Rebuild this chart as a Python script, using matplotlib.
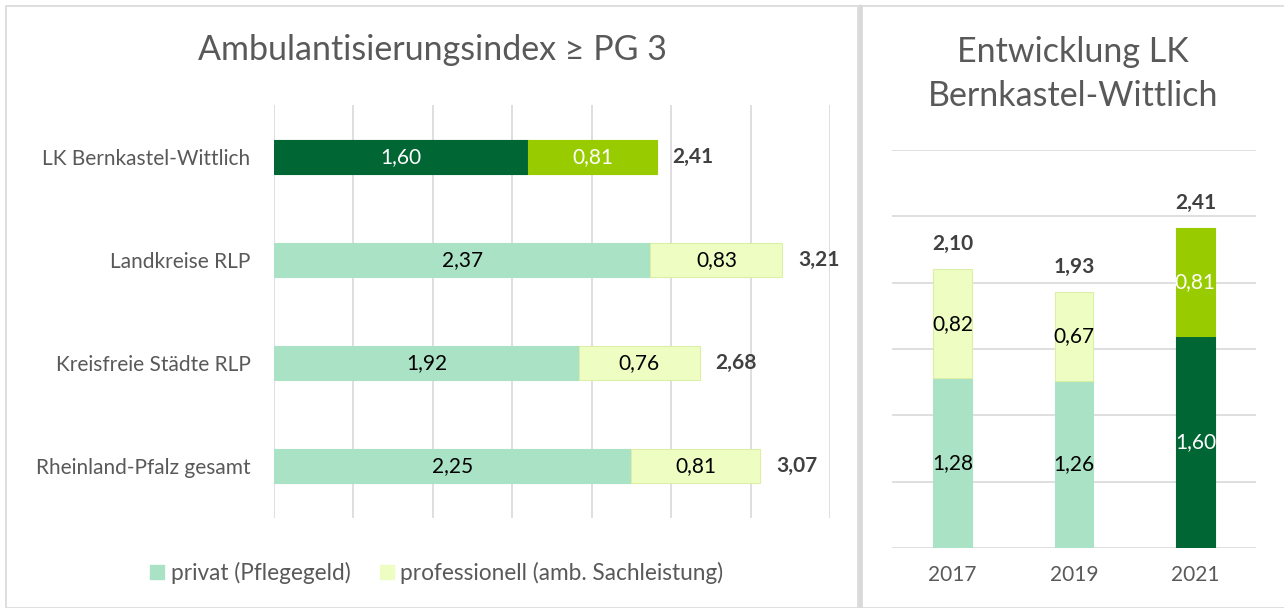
import matplotlib.pyplot as plt
import matplotlib.patches as patches
import numpy as np

plt.rcParams['font.family'] = ['Lato', 'DejaVu Sans']

# left chart data
regions = ['LK Bernkastel-Wittlich', 'Landkreise RLP', 'Kreisfreie Städte RLP', 'Rheinland-Pfalz gesamt']
privat = [1.60, 2.37, 1.92, 2.25]
profi = [0.81, 0.83, 0.76, 0.81]
totals = [2.41, 3.21, 2.68, 3.07]

# right chart data
years = ['2017', '2019', '2021']
privat_lk = [1.28, 1.26, 1.60]
profi_lk = [0.82, 0.67, 0.81]
totals_lk = [2.10, 1.93, 2.41]

c_priv = '#a9e2c5'
c_prof = '#eefdc2'
c_prof_edge = '#dcefa6'
c_dark = '#006633'
c_lime = '#99cc00'
grid = '#d9d9d9'
txt = '#595959'
fs = 15

def fmt(v):
    return '{:.2f}'.format(v).replace('.', ',')

W, H = 1284, 608
fig = plt.figure(figsize=(12.84, 6.08), dpi=100)

# panel borders
fig.patches.append(patches.Rectangle((6 / W, 0), 852 / W, 1 - 6 / H, transform=fig.transFigure,
                                     fill=False, edgecolor=grid, lw=1.2))
fig.patches.append(patches.Rectangle((862 / W, 0), 430 / W, 1 - 6 / H, transform=fig.transFigure,
                                     fill=False, edgecolor=grid, lw=1.2))
fig.lines.append(plt.Line2D([860 / W, 860 / W], [0, 1 - 6 / H], transform=fig.transFigure,
                            color=grid, lw=2.5))

# ---- left chart ----
ax = fig.add_axes([274 / W, 1 - 518 / H, 556 / W, 413 / H])
y = np.arange(len(regions))
for i in range(len(regions)):
    if i == 0:
        cp, cq, ep, eq, tp, tq = c_dark, c_lime, c_dark, c_lime, 'white', 'white'
    else:
        cp, cq, ep, eq, tp, tq = c_priv, c_prof, c_priv, c_prof_edge, 'black', 'black'
    ax.barh(y[i], privat[i], height=0.33, color=cp, edgecolor=ep, lw=0.8, zorder=3)
    ax.barh(y[i], profi[i], left=privat[i], height=0.33, color=cq, edgecolor=eq, lw=0.8, zorder=3)
    ax.text(privat[i] / 2, y[i], fmt(privat[i]), ha='center', va='center', fontsize=fs, color=tp, zorder=4)
    ax.text(privat[i] + profi[i] / 2, y[i], fmt(profi[i]), ha='center', va='center', fontsize=fs, color=tq, zorder=4)
    ax.text(privat[i] + profi[i] + 0.1, y[i], fmt(totals[i]), ha='left', va='center', fontsize=fs,
            color='#404040', fontweight='bold', zorder=4)

ax.set_xlim(0, 3.5)
ax.set_ylim(3.5, -0.5)
ax.set_xticks(np.arange(0, 3.51, 0.5))
ax.set_xticklabels([])
ax.set_yticks(y)
ax.set_yticklabels(regions, fontsize=fs, color=txt)
ax.tick_params(length=0, pad=17)
ax.grid(axis='x', color=grid, lw=1.2, zorder=0)
for s in ax.spines.values():
    s.set_visible(False)

fig.text(432 / W, 1 - 50 / H, 'Ambulantisierungsindex ≥ PG 3', ha='center', va='center',
         fontsize=24.5, color=txt)

# legend
h1 = patches.Patch(facecolor=c_priv, edgecolor=c_priv)
h2 = patches.Patch(facecolor=c_prof, edgecolor=c_prof)
fig.legend([h1, h2], ['privat (Pflegegeld)', 'professionell (amb. Sachleistung)'],
           loc='center', bbox_to_anchor=(437 / W, 1 - 573 / H), ncol=2, frameon=False,
           fontsize=16.3, labelcolor=txt, handlelength=0.6, handleheight=0.6,
           handletextpad=0.3, columnspacing=1.3)

# ---- right chart ----
ax2 = fig.add_axes([892 / W, 1 - 548 / H, 364 / W, 398 / H])
x = np.arange(len(years))
for i in range(len(years)):
    if i == 2:
        cp, cq, eq, tp, tq = c_dark, c_lime, c_lime, 'white', 'white'
    else:
        cp, cq, eq, tp, tq = c_priv, c_prof, c_prof_edge, 'black', 'black'
    ax2.bar(x[i], privat_lk[i], width=0.32, color=cp, edgecolor=cp, lw=0.8, zorder=3)
    ax2.bar(x[i], profi_lk[i], bottom=privat_lk[i], width=0.32, color=cq, edgecolor=eq, lw=0.8, zorder=3)
    ax2.text(x[i], privat_lk[i] / 2, fmt(privat_lk[i]), ha='center', va='center', fontsize=fs, color=tp, zorder=4)
    ax2.text(x[i], privat_lk[i] + profi_lk[i] / 2, fmt(profi_lk[i]), ha='center', va='center',
             fontsize=fs, color=tq, zorder=4)
    ax2.text(x[i], totals_lk[i] + 0.19, fmt(totals_lk[i]), ha='center', va='center', fontsize=fs,
             color='#404040', fontweight='bold', zorder=4)

ax2.set_xlim(-0.5, 2.5)
ax2.set_ylim(0, 3.0)
ax2.set_yticks(np.arange(0, 3.01, 0.5))
ax2.set_yticklabels([])
ax2.set_xticks(x)
ax2.set_xticklabels(years, fontsize=fs, color=txt)
ax2.tick_params(length=0, pad=12)
ax2.grid(axis='y', color=grid, lw=1.2, zorder=0)
for s in ax2.spines.values():
    s.set_visible(False)

fig.text(1073 / W, 1 - 74 / H, 'Entwicklung LK\nBernkastel-Wittlich', ha='center', va='center',
         fontsize=24.5, color=txt, linespacing=1.45)

plt.savefig('out.png', dpi=100)
plt.close()
